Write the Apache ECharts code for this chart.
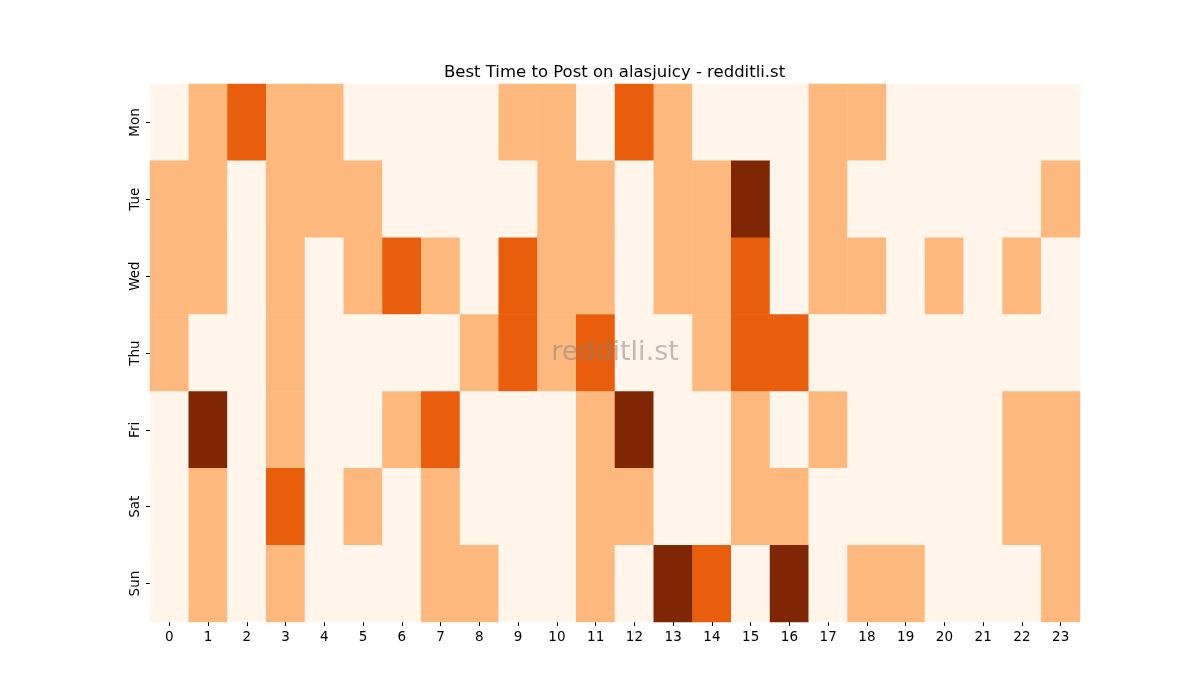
<!DOCTYPE html>
<html>
<head>
<meta charset="utf-8">
<script src="https://cdn.jsdelivr.net/npm/echarts@6/dist/echarts.min.js"></script>
<style>
	html, body { margin: 0; padding: 0; background: #fff; }
	#main { width: 1200px; height: 700px; }
</style>
</head>
<body>
<div id="main"></div>
<script>
var hours = ['0', '1', '2', '3', '4', '5', '6', '7', '8', '9', '10', '11',
	'12', '13', '14', '15', '16', '17', '18', '19', '20', '21', '22', '23'];
var days = ['Mon', 'Tue', 'Wed', 'Thu', 'Fri', 'Sat', 'Sun'];

// 每行一天, 每列一小时 (0-3 等级)
var mon = [0, 1, 2, 1, 1, 0, 0, 0, 0, 1, 1, 0, 2, 1, 0, 0, 0, 1, 1, 0, 0, 0, 0, 0];
var tue = [1, 1, 0, 1, 1, 1, 0, 0, 0, 0, 1, 1, 0, 1, 1, 3, 0, 1, 0, 0, 0, 0, 0, 1];
var wed = [1, 1, 0, 1, 0, 1, 2, 1, 0, 2, 1, 1, 0, 1, 1, 2, 0, 1, 1, 0, 1, 0, 1, 0];
var thu = [1, 0, 0, 1, 0, 0, 0, 0, 1, 2, 1, 2, 0, 0, 1, 2, 2, 0, 0, 0, 0, 0, 0, 0];
var fri = [0, 3, 0, 1, 0, 0, 1, 2, 0, 0, 0, 1, 3, 0, 0, 1, 0, 1, 0, 0, 0, 0, 1, 1];
var sat = [0, 1, 0, 2, 0, 1, 0, 1, 0, 0, 0, 1, 1, 0, 0, 1, 1, 0, 0, 0, 0, 0, 1, 1];
var sun = [0, 1, 0, 1, 0, 0, 0, 1, 1, 0, 0, 1, 0, 3, 2, 0, 3, 0, 1, 1, 0, 0, 0, 1];

var levelColors = ['#fff5eb', '#fdb97d', '#e95e0d', '#7f2704'];

var rows = [mon, tue, wed, thu, fri, sat, sun];
var cells = [];
for (var d = 0; d < rows.length; d++) {
	for (var h = 0; h < rows[d].length; h++) {
		cells.push([h, d, rows[d][h]]);
	}
}

var font = 'DejaVu Sans';
var myChart = echarts.init(document.getElementById('main'));

myChart.setOption({
	animation: false,
	title: {
		text: 'Best Time to Post on alasjuicy - redditli.st',
		left: 439,
		top: 59,
		textStyle: {
			fontFamily: font,
			fontSize: 16.5,
			fontWeight: 'normal',
			color: '#000'
		}
	},
	grid: {
		left: 150,
		top: 84,
		width: 930,
		height: 538
	},
	xAxis: {
		type: 'category',
		data: hours,
		axisLine: { show: false },
		axisTick: { show: true, alignWithLabel: true, length: 4, lineStyle: { color: '#000' } },
		axisLabel: { fontFamily: font, fontSize: 13.5, color: '#000', margin: 8 },
		splitLine: { show: false }
	},
	yAxis: {
		type: 'category',
		data: days,
		inverse: true,
		axisLine: { show: false },
		axisTick: { show: true, alignWithLabel: true, length: 4, lineStyle: { color: '#000' } },
		axisLabel: { fontFamily: font, fontSize: 13.5, color: '#000', rotate: 90, margin: 8 },
		splitLine: { show: false }
	},
	visualMap: {
		type: 'piecewise',
		show: false,
		dimension: 2,
		pieces: [
			{ value: 0, color: levelColors[0] },
			{ value: 1, color: levelColors[1] },
			{ value: 2, color: levelColors[2] },
			{ value: 3, color: levelColors[3] }
		]
	},
	graphic: [{
		type: 'text',
		x: 615,
		y: 353,
		z: 100,
		style: {
			text: 'redditli.st',
			font: '27px "DejaVu Sans"',
			fill: 'rgba(128,128,128,0.5)',
			align: 'center',
			verticalAlign: 'middle'
		}
	}],
	series: [{
		type: 'heatmap',
		data: cells,
		itemStyle: { borderWidth: 0 },
		emphasis: { disabled: true }
	}]
});
</script>
</body>
</html>
